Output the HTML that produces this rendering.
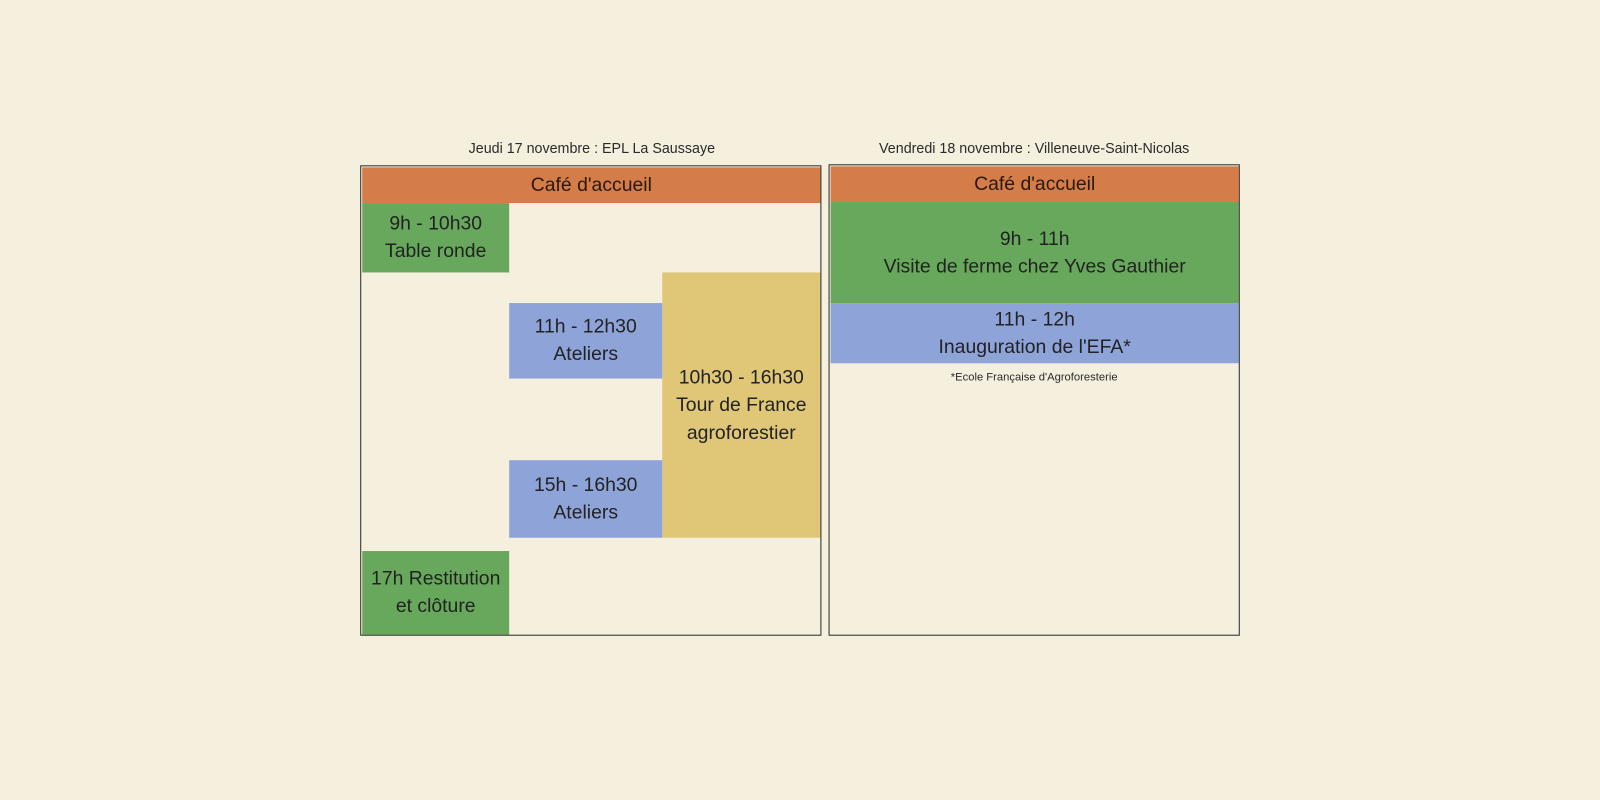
<!DOCTYPE html>
<html><head><meta charset="utf-8"><style>
body{margin:0;width:1600px;height:800px;background:#f5efde;position:relative;overflow:hidden;font-family:"Liberation Sans",sans-serif;color:#222;}
#w{position:absolute;left:0;top:0;width:1568px;height:784px;transform:scale(1.0204);transform-origin:0 0;}
.a{position:absolute;box-sizing:border-box;display:flex;flex-direction:column;align-items:center;justify-content:center;text-align:center;font-size:19px;line-height:27px;}
.t{position:absolute;font-size:14px;text-align:center;color:#2a2a2a;}
.box{position:absolute;border:1.5px solid #2a2a2a;box-sizing:border-box;}
.o{background:#d57d48;color:#2a1810}.g{background:#68a85c}.b{background:#8ea3d8}.y{background:#e0c778}
</style></head><body><div id="w">
<div class="t" style="left:354px;width:452px;top:137px">Jeudi 17 novembre : EPL La Saussaye</div>
<div class="t" style="left:813px;width:401px;top:137px">Vendredi 18 novembre : Villeneuve-Saint-Nicolas</div>

<div class="a o" style="left:355px;top:164px;width:449px;height:35px">Café d'accueil</div>
<div class="a g" style="left:355px;top:199px;width:144px;height:68px">9h - 10h30<br>Table ronde</div>
<div class="a y" style="left:649px;top:267px;width:155px;height:260px">10h30 - 16h30<br>Tour de France<br>agroforestier</div>
<div class="a b" style="left:499px;top:297px;width:150px;height:74px">11h - 12h30<br>Ateliers</div>
<div class="a b" style="left:499px;top:451px;width:150px;height:76px">15h - 16h30<br>Ateliers</div>
<div class="a g" style="left:355px;top:540px;width:144px;height:82px">17h Restitution<br>et clôture</div>
<div class="box" style="left:353px;top:162px;width:452px;height:461px"></div>

<div class="a o" style="left:814px;top:163px;width:400px;height:35px">Café d'accueil</div>
<div class="a g" style="left:814px;top:198px;width:400px;height:99px">9h - 11h<br>Visite de ferme chez Yves Gauthier</div>
<div class="a b" style="left:814px;top:297px;width:400px;height:59px">11h - 12h<br>Inauguration de l'EFA*</div>
<div class="t" style="left:813px;width:401px;top:364px;font-size:11px">*Ecole Française d'Agroforesterie</div>
<div class="box" style="left:812px;top:161px;width:403px;height:462px"></div>
</div></body></html>
